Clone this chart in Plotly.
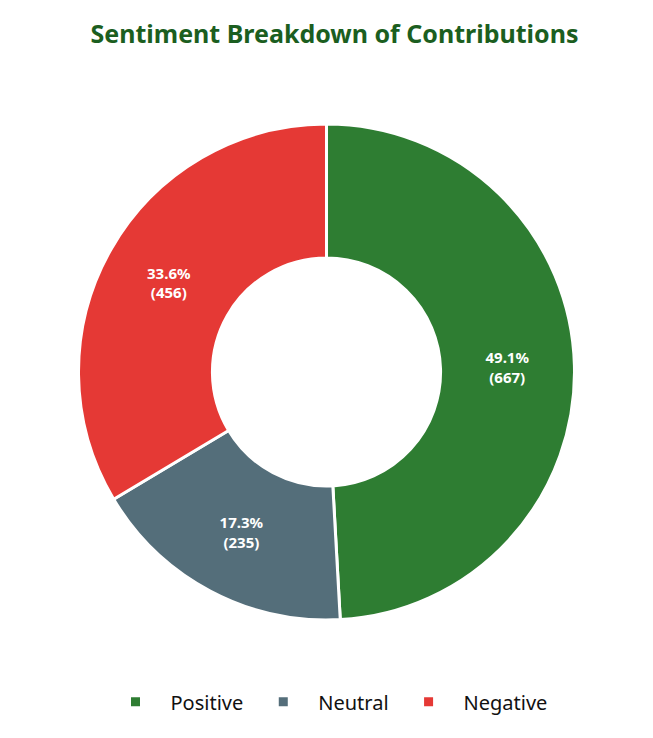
import plotly.graph_objects as go

labels = ["Positive", "Neutral", "Negative"]
counts = [667, 235, 456]
colors = ["#2e7d32", "#546e7a", "#e53935"]

fig = go.Figure(
    go.Pie(
        labels=labels,
        values=counts,
        hole=0.46,
        sort=False,
        direction="clockwise",
        marker=dict(colors=colors, line=dict(color="white", width=3)),
        texttemplate="<b>%{percent:.1%}<br>(%{value})</b>",
        textposition="inside",
        insidetextfont=dict(color="white", size=15, family="Noto Sans"),
        hoverinfo="label+value+percent",
    )
)

fig.update_layout(
    width=653,
    height=738,
    paper_bgcolor="white",
    font=dict(family="Noto Sans"),
    title=dict(
        text="<b>Sentiment Breakdown of Contributions</b>",
        x=0.5,
        xanchor="center",
        y=1 - 26 / 738,
        yanchor="middle",
        font=dict(size=25, color="#1b5e20", family="Noto Sans"),
    ),
    margin=dict(t=116, b=126, l=12, r=28),
    legend=dict(
        orientation="h",
        x=0.5,
        xanchor="center",
        y=-0.165,
        yanchor="middle",
        font=dict(size=20, color="#111"),
        itemwidth=60,
    ),
)

fig.write_html("out.html")
